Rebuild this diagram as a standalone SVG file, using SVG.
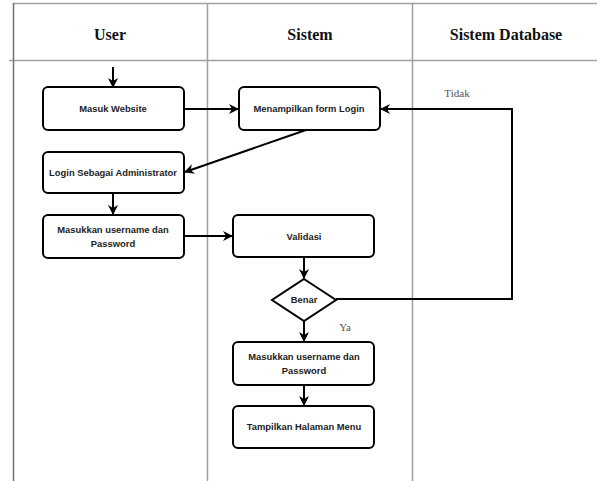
<svg xmlns="http://www.w3.org/2000/svg" width="597" height="481" viewBox="0 0 597 481">
<style>
.lane{stroke:#a0a0a0;stroke-width:1.5;fill:none}
.hdr{font-family:"Liberation Serif",serif;font-weight:bold;font-size:16px;fill:#111;text-anchor:middle}
.box{fill:#fff;stroke:#000;stroke-width:2}
.t{font-family:"Liberation Sans",Arial,sans-serif;font-weight:bold;font-size:9.4px;fill:#222;text-anchor:middle}
.e{stroke:#000;stroke-width:2;fill:none;marker-end:url(#ah)}
.lbl{font-family:"Liberation Serif",serif;font-size:11px;fill:#555;text-anchor:middle}
</style>
<defs>
<marker id="ah" viewBox="0 0 10 10" refX="9" refY="5" markerWidth="5" markerHeight="5" orient="auto" markerUnits="strokeWidth">
<path d="M0,0 L10,5 L0,10 L3,5 Z" fill="#000"/>
</marker>
</defs>
<rect width="597" height="481" fill="#fff"/>
<g id="lanes">
<line class="lane" x1="14" y1="3.5" x2="597" y2="3.5"/>
<line class="lane" x1="9" y1="60.5" x2="597" y2="60.5"/>
<line class="lane" x1="13.5" y1="3" x2="13.5" y2="481" style="stroke:#707070"/>
<line class="lane" x1="207.5" y1="3" x2="207.5" y2="481"/>
<line class="lane" x1="412.5" y1="3" x2="412.5" y2="481"/>
<text class="hdr" x="110" y="40">User</text>
<text class="hdr" x="310" y="40">Sistem</text>
<text class="hdr" x="506" y="40">Sistem Database</text>
</g>
<g id="connectors">
<line class="e" x1="113" y1="67" x2="113" y2="87"/>
<line class="e" x1="184" y1="109" x2="238" y2="109"/>
<line class="e" x1="306" y1="130" x2="185" y2="172"/>
<line class="e" x1="113" y1="193" x2="113" y2="214"/>
<line class="e" x1="184" y1="236" x2="232" y2="236"/>
<line class="e" x1="304" y1="257" x2="304" y2="278"/>
<polyline class="e" points="336,299 512,299 512,109 381,109"/>
<line class="e" x1="304" y1="321" x2="304" y2="341"/>
<line class="e" x1="304" y1="385" x2="304" y2="405"/>
<text class="lbl" x="457" y="97">Tidak</text>
<text class="lbl" x="345" y="331">Ya</text>
</g>
<g id="masuk-website">
<rect class="box" x="43" y="87" width="141" height="43" rx="5"/>
<text class="t" x="113" y="112">Masuk Website</text>
</g>
<g id="menampilkan-form-login">
<rect class="box" x="239" y="87" width="141" height="43" rx="5"/>
<text class="t" x="309" y="112">Menampilkan form Login</text>
</g>
<g id="login-admin">
<rect class="box" x="43" y="152" width="141" height="41" rx="5"/>
<text class="t" x="113" y="176">Login Sebagai Administrator</text>
</g>
<g id="masukkan-user">
<rect class="box" x="43" y="215" width="141" height="43" rx="5"/>
<text class="t" x="113" y="233">Masukkan username dan</text>
<text class="t" x="113" y="247">Password</text>
</g>
<g id="validasi">
<rect class="box" x="233" y="215" width="141" height="42" rx="5"/>
<text class="t" x="304" y="240">Validasi</text>
</g>
<g id="benar">
<polygon class="box" points="304,279 336,300 304,321 272,300"/>
<text class="t" x="304" y="303">Benar</text>
</g>
<g id="masukkan-sistem">
<rect class="box" x="233" y="342" width="141" height="43" rx="5"/>
<text class="t" x="304" y="360">Masukkan username dan</text>
<text class="t" x="304" y="374">Password</text>
</g>
<g id="tampilkan-menu">
<rect class="box" x="233" y="406" width="141" height="42" rx="5"/>
<text class="t" x="304" y="430">Tampilkan Halaman Menu</text>
</g>
</svg>
